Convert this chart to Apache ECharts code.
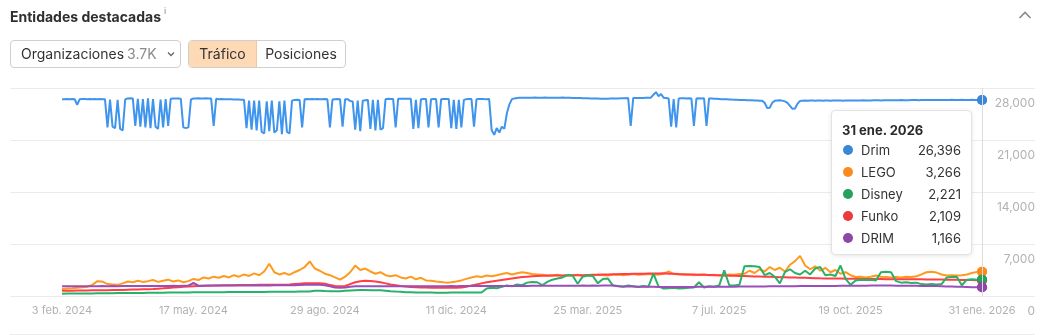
<!DOCTYPE html>
<html>
<head>
<meta charset="utf-8">
<script src="https://cdn.jsdelivr.net/npm/echarts@6/dist/echarts.min.js"></script>
<style>
  html, body { margin:0; padding:0; background:#fff; }
  body { width:1048px; height:335px; position:relative; overflow:hidden; font-family:Inter, "Noto Sans", sans-serif; color:#333; }
  #chart { position:absolute; left:0; top:0; width:1048px; height:335px; }
  .title { position:absolute; left:10px; top:7px; font-size:14px; font-weight:700; color:#2f2f2f; z-index:2; }
  .title sup { font-size:9px; font-weight:400; color:#888; margin-left:3px; position:relative; top:-2px; }
  .chev { position:absolute; left:1018px; top:10px; z-index:2; }
  .dd { position:absolute; left:10px; top:40px; width:169px; height:26px; border:1px solid #cfcfcf; border-radius:4px; box-sizing:content-box; z-index:2; font-size:14px; line-height:26px; }
  .dd .t1 { position:absolute; left:10px; color:#333; }
  .dd .t2 { color:#8a8a8a; margin-left:3px; }
  .dd svg { position:absolute; left:156px; top:10px; }
  .tg { position:absolute; left:188px; top:40px; width:156px; height:26px; border:1px solid #cfcfcf; border-radius:4px; overflow:hidden; z-index:2; font-size:14px; line-height:26px; display:flex; }
  .tg .a { width:67px; background:#fdd9b5; text-align:center; color:#333; border-right:1px solid #f2c79c; }
  .tg .b { flex:1; text-align:center; color:#333; }
  .bline { position:absolute; left:10px; top:334px; width:1025px; height:1px; background:#ececec; }
</style>
</head>
<body>
<div id="chart"></div>
<div class="title">Entidades destacadas<sup>i</sup></div>
<svg class="chev" width="14" height="10" viewBox="0 0 14 10"><polyline points="1.5,8 7,2.5 12.5,8" fill="none" stroke="#8a8a8a" stroke-width="1.6"/></svg>
<div class="dd"><span class="t1">Organizaciones<span class="t2">3.7K</span></span><svg width="8" height="6" viewBox="0 0 8 6"><polyline points="1,1.5 4,4.5 7,1.5" fill="none" stroke="#666" stroke-width="1.3"/></svg></div>
<div class="tg"><div class="a">Tráfico</div><div class="b">Posiciones</div></div>
<div class="bline"></div>
<script>
// ---------- DATA ----------
const startDate = '2024-02-03';
const drimStepDays = 2;   // Drim sampled every 2 days
const otherStepDays = 4;  // others sampled every 4 days

const seriesNames = ['Drim', 'LEGO', 'Disney', 'Funko', 'DRIM'];
const seriesColors = ['#3a87d8', '#fb8c1c', '#27a05e', '#ea3a3e', '#8d47a8'];

const xTickDates = ['2024-02-03','2024-05-17','2024-08-29','2024-12-11','2025-03-25','2025-07-07','2025-10-19','2026-01-31'];
const xTickLabels = ['3 feb. 2024','17 may. 2024','29 ago. 2024','11 dic. 2024','25 mar. 2025','7 jul. 2025','19 oct. 2025','31 ene. 2026'];
const yTicks = [0, 7000, 14000, 21000, 28000];
const tooltipDateLabel = '31 ene. 2026';

const drim = [
26500,26480,26520,26500,26510,26490,25750,26500,26520,26510,
26500,26520,26490,26510,26500,26520,26480,26500,22700,26450,
22800,22600,26400,22500,22300,26450,26600,26620,26600,22900,
26550,22800,26500,22700,26600,22600,26500,22800,22500,26450,
22700,26500,22900,26550,26600,26580,26600,26550,22700,22600,
22700,26450,26600,26580,26620,26600,26590,26610,26600,26580,
22900,26550,26500,26520,26490,26500,26480,26470,26460,26450,
26440,26430,26420,22600,26300,22400,26300,22300,26300,22100,
21900,26200,22200,26300,22000,22300,26200,21800,26300,22100,
21900,26300,26400,26420,26400,22700,26500,26520,26500,26510,
26500,26520,26490,26500,26510,26480,22700,26450,26500,26520,
26500,22800,26480,26500,26250,26200,22400,26300,22200,26300,
26350,26400,22500,26400,22300,26400,22400,22600,26500,26550,
26520,26530,22700,26550,26560,26540,26550,26560,26540,22500,
26400,22600,26500,26520,26530,22700,26500,26520,26510,22700,
26500,26520,26530,26510,22600,26400,22500,26400,22700,26400,
26500,26520,26510,22800,26500,26520,26530,26510,26500,26520,
22300,21700,22600,22000,22800,22500,24600,25800,26500,26600,
26650,26680,26700,26690,26700,26680,26700,26720,26700,26690,
26700,26710,26700,26690,26700,26680,26690,26700,26710,26700,
26690,26680,26670,26660,26650,26640,26630,26620,26610,26600,
26590,26580,26570,26560,26560,26550,26560,26570,26580,26590,
26600,26610,26620,26630,26640,22900,26640,26650,26660,26660,
26670,26680,26690,26700,27100,27450,26900,27200,26700,26650,
26600,22800,26500,22700,26600,26620,26610,26600,26620,26600,
22900,26600,26610,26600,26620,22900,26600,26580,26560,26540,
26520,26500,26490,26480,26460,26440,26430,26420,26400,26380,
26370,26360,26350,26340,26330,26320,26300,26280,26000,25300,
25350,26000,26300,26320,26340,26300,26200,26000,25600,25200,
25250,25900,26250,26300,26310,26300,26320,26310,26300,26320,
26310,26300,26320,26310,26300,26320,26330,26310,26320,26300,
26310,26320,26330,26320,26310,26320,26330,26340,26330,26320,
26330,26340,26350,26340,26330,26340,26350,26360,26350,26340,
26350,26360,26370,26360,26350,26360,26370,26380,26370,26360,
26370,26380,26390,26380,26370,26380,26390,26400,26390,26380,
26390,26400,26410,26400,26390,26400,26410,26400,26390,26400,
26410,26400,26390,26400,26396
];

const lego = [
950,1000,1050,1120,1180,1250,1500,2000,1950,1600,
1550,1500,1700,1950,1850,2050,1900,2000,2150,1900,
2050,2200,1950,2100,1850,2000,2300,2150,2500,2350,
2600,2450,2700,2500,2800,2600,2900,2700,3050,2800,
3300,4350,3200,2900,3100,2850,3200,3500,3900,4650,
3700,3400,3000,2800,2500,2200,2600,3200,4100,3500,
3700,3300,3000,3200,2800,2650,2800,2500,2350,2600,
2250,2450,2100,2050,1950,1900,1800,1850,1950,2100,
2300,2500,2650,2550,2750,2650,2800,2950,3100,2900,
3050,3200,3100,2950,2900,2850,2800,2750,2850,2700,
2800,2750,2850,2700,2800,2750,2850,2800,2750,2850,
2900,2800,2850,2950,2850,2900,2950,2850,2900,3000,
3300,2950,2900,2850,2900,2800,2850,2900,2800,2850,
2750,2800,2900,2850,2950,3000,3400,3100,3600,3300,
3900,3500,3800,3300,4200,4700,5400,4100,3600,4000,
3400,3800,3200,3500,3000,3200,2800,2550,2600,2500,
2600,2750,2600,2550,2500,2550,2500,2600,2550,2650,
2900,3200,3250,3150,2900,2750,2800,2750,2800,2900,
3100,3250,3266
];

const disney = [
310,320,330,330,340,350,350,360,370,380,
380,390,400,400,410,420,420,430,440,450,
450,460,460,470,480,480,490,500,500,510,
510,520,520,530,530,540,540,540,550,550,
550,560,560,570,570,580,580,590,600,620,
700,720,680,650,640,650,700,750,780,800,
800,790,780,760,720,650,600,560,520,500,
480,470,460,460,450,450,450,460,460,460,
460,470,470,480,1000,1100,1050,1250,1400,1300,
1550,1450,1800,1900,1850,1450,1900,2200,2350,2500,
2800,2750,1650,2600,2750,2700,1700,2300,2350,1400,
1350,1250,1400,1300,1200,1350,1250,3000,1300,1000,
1050,1100,1000,1050,1100,1150,1850,1150,1300,1250,
1400,3450,1450,1400,1500,4000,4050,4000,3900,2800,
3100,2600,1700,3200,3600,3100,2900,3400,2900,3700,
3900,2800,2900,2700,4100,2300,1500,2100,2200,2150,
2200,2100,3200,3250,3200,2000,1800,1850,1750,1800,
1600,1550,1600,1550,1600,2500,2550,2600,1450,2200,
2250,2200,2221
];

const funko = [
700,710,720,730,740,750,760,770,780,790,
800,810,820,840,860,880,900,920,950,990,
1030,1080,1130,1180,1230,1280,1320,1350,1370,1390,
1400,1420,1440,1450,1460,1470,1480,1480,1490,1500,
1500,1500,1510,1520,1530,1550,1600,1650,1700,1720,
1720,1700,1650,1500,1350,1300,1350,1600,1850,1980,
2050,2030,1950,1850,1700,1550,1450,1350,1280,1220,
1180,1150,1130,1120,1110,1100,1100,1110,1120,1150,
1250,1400,1550,1700,1850,1950,2050,2150,2250,2350,
2450,2550,2600,2650,2700,2720,2740,2750,2760,2770,
2780,2790,2800,2810,2830,2850,2860,2880,2900,2920,
2940,2950,2960,2980,3000,3010,3020,3030,3040,3050,
3000,2980,2950,2930,2900,2880,2860,2850,2830,2800,
2780,2760,2740,2720,2700,2680,2660,2640,2620,2600,
2580,2560,2540,2520,2500,2480,2460,2440,2420,2400,
2380,2370,2360,2350,2340,2330,2320,2310,2300,2300,
2290,2280,2280,2270,2270,2260,2260,2250,2250,2240,
2240,2230,2230,2220,2210,2200,2190,2180,2170,2160,
2140,2120,2109
];

const drimOrg = [
1300,1300,1310,1300,1310,1320,1310,1320,1330,1320,
1330,1320,1330,1340,1330,1340,1350,1340,1350,1360,
1350,1360,1370,1360,1370,1380,1750,1380,1390,1400,
1400,1410,1420,1410,1420,1430,1420,1430,1440,1430,
1440,1430,1440,1450,1440,1450,1460,1480,1500,1520,
1540,1520,1450,1300,1150,1100,1150,1250,1300,1300,
1310,1300,1310,1300,1310,1300,1310,1300,1310,1300,
1300,1310,1300,1310,1320,1310,1320,1330,1320,1330,
1330,1340,1330,1340,1350,1340,1350,1360,1350,1360,
1360,1370,1360,1370,1380,1370,1380,1390,1380,1390,
1390,1380,1390,1400,1390,1400,1390,1400,1410,1400,
1300,1290,1280,1270,1260,1250,1240,1230,1220,1210,
1200,1200,1210,1210,1220,1220,1230,1230,1240,1240,
1250,1250,1260,1260,1270,1270,1280,1280,1290,1290,
1300,1300,1310,1310,1320,1320,1330,1330,1340,1340,
1350,1350,1360,1360,1370,1370,1380,1380,1390,1390,
1400,1400,1400,1400,1400,1390,1390,1380,1380,1370,
1360,1350,1340,1330,1310,1290,1270,1250,1230,1210,
1190,1175,1166
];

// ---------- BUILD ----------
const DAY = 86400000;
const t0 = Date.parse(startDate + 'T00:00:00Z');
function toPairs(arr, step) { return arr.map((v, i) => [t0 + i * step * DAY, v]); }
const rawSeries = [
  { name: seriesNames[0], data: toPairs(drim, drimStepDays) },
  { name: seriesNames[1], data: toPairs(lego, otherStepDays) },
  { name: seriesNames[2], data: toPairs(disney, otherStepDays) },
  { name: seriesNames[3], data: toPairs(funko, otherStepDays) },
  { name: seriesNames[4], data: toPairs(drimOrg, otherStepDays) }
];
const tEnd = rawSeries[0].data[rawSeries[0].data.length - 1][0];
const tickTimes = xTickDates.map(d => Date.parse(d + 'T00:00:00Z'));

const chart = echarts.init(document.getElementById('chart'), null, { renderer: 'canvas' });
const drawOrder = [1, 3, 2, 4, 0];
const series = drawOrder.map(k => ({
  name: rawSeries[k].name,
  type: 'line',
  data: rawSeries[k].data,
  showSymbol: false,
  symbol: 'circle',
  symbolSize: 10,
  lineStyle: { width: 2, color: seriesColors[k] },
  itemStyle: { color: seriesColors[k], borderWidth: 0 },
  emphasis: { scale: false, lineStyle: { width: 2 }, itemStyle: { color: seriesColors[k], borderWidth: 0 } },
  z: 2 + drawOrder.indexOf(k),
  animation: false,
  markPoint: {
    symbol: 'circle', symbolSize: 10, silent: true, animation: false,
    itemStyle: { color: seriesColors[k], borderWidth: 0 },
    label: { show: false },
    data: [{ coord: rawSeries[k].data[rawSeries[k].data.length - 1] }]
  }
}));

function fmt(n) { return n.toLocaleString('en-US'); }

chart.setOption({
  animation: false,
  grid: { left: 10, right: 13, top: 88, bottom: 39, containLabel: false, outerBoundsMode: 'none' },
  xAxis: {
    type: 'value',
    min: t0 - 41.15 * DAY,
    max: tEnd + 41.9 * DAY,
    axisLine: { show: false },
    axisTick: { show: false },
    splitLine: { show: false },
    axisLabel: {
      customValues: tickTimes,
      color: '#b2b2b2', fontSize: 11, fontFamily: 'Inter', margin: 9,
      hideOverlap: false,
      formatter: function (v) {
        const i = tickTimes.indexOf(v);
        return i >= 0 ? xTickLabels[i] : '';
      }
    }
  },
  yAxis: {
    type: 'value',
    position: 'right',
    min: yTicks[0], max: yTicks[yTicks.length - 1], interval: 7000,
    axisLine: { show: false },
    axisTick: { show: false },
    splitLine: { lineStyle: { color: '#ebebeb', width: 1 } },
    axisLabel: {
      inside: true, margin: 0, align: 'right', verticalAlign: 'top',
      padding: [9, 0, 0, 0],
      color: '#b2b2b2', fontSize: 12, fontFamily: 'Inter',
      formatter: v => fmt(v)
    }
  },
  tooltip: {
    trigger: 'axis',
    alwaysShowContent: true,
    transitionDuration: 0,
    enterable: false,
    confine: false,
    axisPointer: { type: 'line', animation: false, label: { show: false }, lineStyle: { color: '#dcdcdc', width: 1, type: 'solid' } },
    backgroundColor: '#fff',
    borderColor: '#e3e3e3',
    borderWidth: 1,
    padding: 0,
    extraCssText: 'border-radius:4px;box-shadow:0 1px 4px rgba(0,0,0,0.10);',
    position: function () { return [831, 110]; },
    formatter: function () {
      let h = '<div style="width:119px;padding:10px 10px 5px 10px;font-family:Inter,sans-serif;color:#333;">';
      h += '<div style="font-size:13px;font-weight:700;line-height:18px;color:#2b2b2b;">' + tooltipDateLabel + '</div>';
      rawSeries.forEach((s, k) => {
        const v = s.data[s.data.length - 1][1];
        h += '<div style="display:flex;align-items:center;height:22px;font-size:13px;">' +
             '<span style="display:inline-block;width:10px;height:10px;border-radius:5px;background:' + seriesColors[k] + ';margin-left:1px;margin-right:8px;"></span>' +
             '<span style="flex:1;color:#333;">' + s.name + '</span>' +
             '<span style="color:#333;">' + fmt(v) + '</span></div>';
      });
      h += '</div>';
      return h;
    }
  },
  series: series
});

chart.dispatchAction({ type: 'showTip', seriesIndex: drawOrder.indexOf(0), dataIndex: drim.length - 1 });
</script>
</body>
</html>
